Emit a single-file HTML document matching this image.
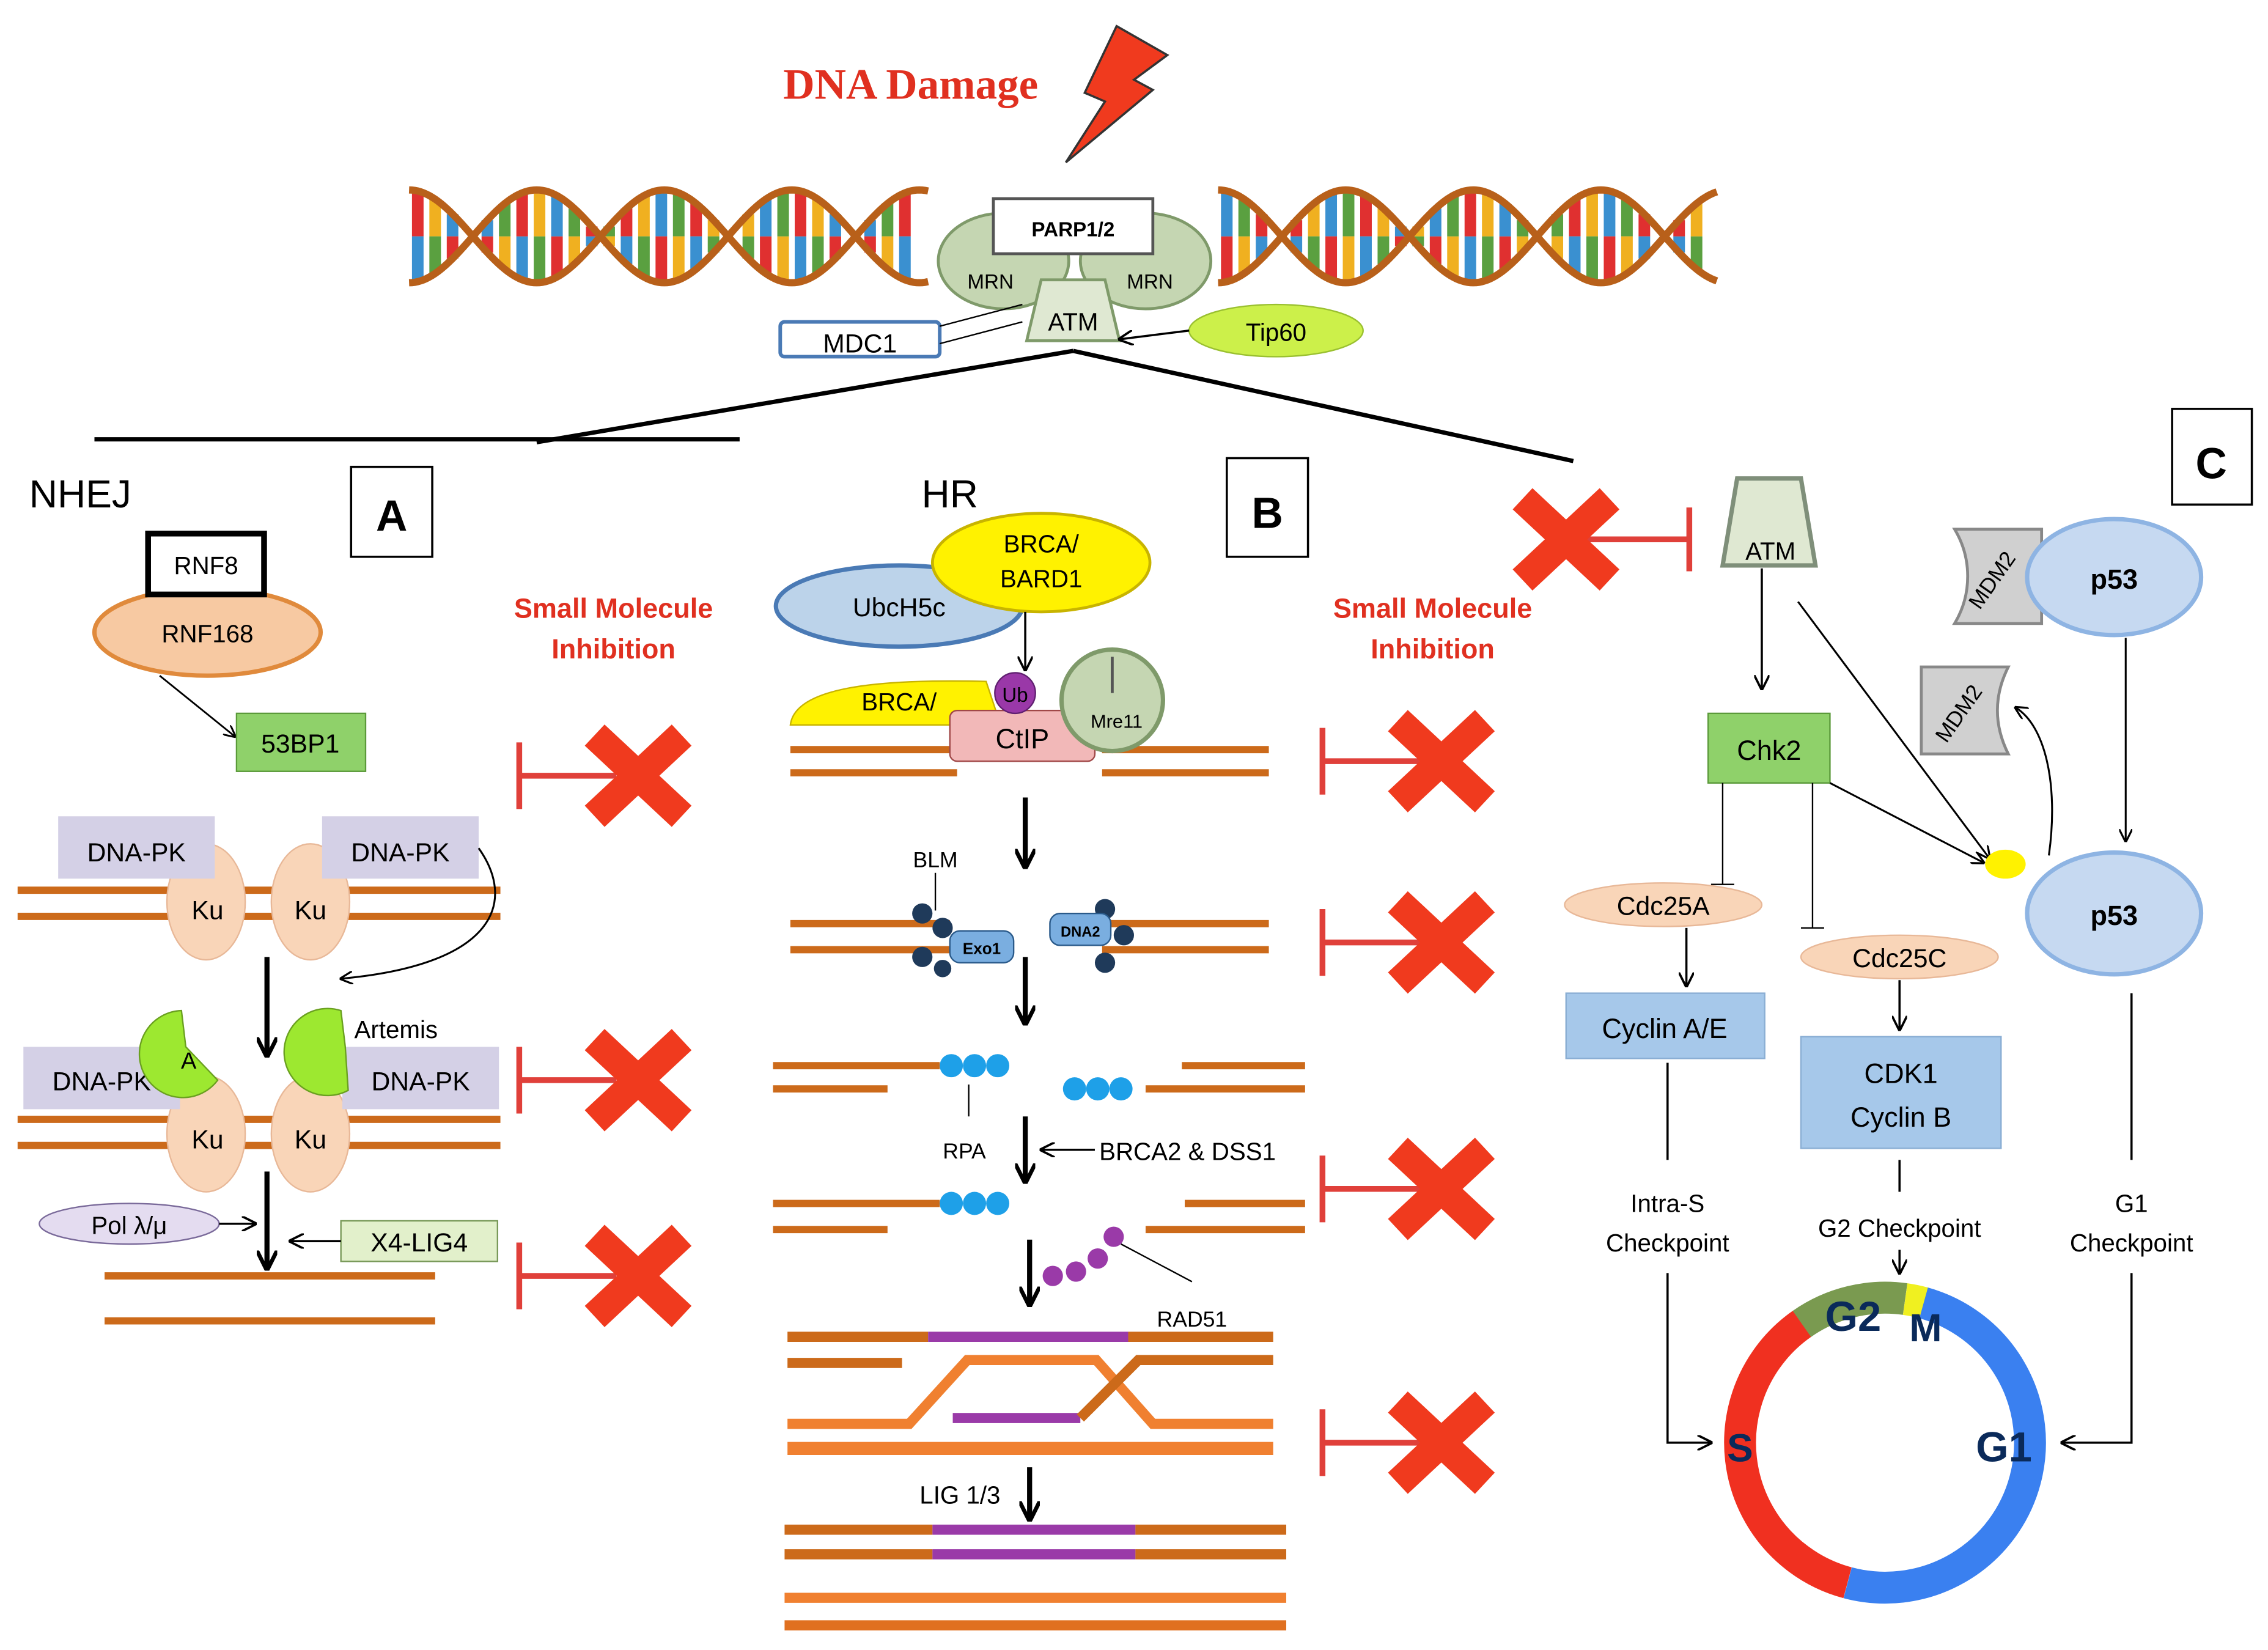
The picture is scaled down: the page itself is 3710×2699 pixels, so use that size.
<!DOCTYPE html>
<html><head><meta charset="utf-8"><style>
html,body{margin:0;padding:0;background:#fff}
svg{display:block}
text{font-family:"Liberation Sans",sans-serif}
</style></head><body>
<svg width="3710" height="2699" viewBox="0 0 1564 1138" xmlns="http://www.w3.org/2000/svg">
<defs>
<marker id="ah" viewBox="0 0 10 10" refX="9" refY="5" markerWidth="7" markerHeight="7" orient="auto"><path d="M0,0 L10,5 L0,10" fill="none" stroke="#000" stroke-width="1.5"/></marker>
<marker id="ahb" viewBox="0 0 10 10" refX="9" refY="5" markerWidth="4" markerHeight="4" orient="auto"><path d="M0,0 L10,5 L0,10" fill="none" stroke="#000" stroke-width="2"/></marker>
<g id="X"><path d="M-30,-28 L30,28 M30,-28 L-30,28" stroke="#f03a1e" stroke-width="20"/></g>
</defs>
<rect width="1564" height="1138" fill="#fff"/>

<text x="628" y="68" font-size="30" font-weight="bold" fill="#e03020" text-anchor="middle" style="font-family:'Liberation Serif',serif">DNA Damage</text>
<polygon points="770,18 805,38 782,55 795,62 735,112 762,70 748,64" fill="#f03a1e" stroke="#333" stroke-width="1.5"/>

<g id="helix"></g>

<ellipse cx="692" cy="180" rx="45" ry="33" fill="#c5d6b2" stroke="#7f9a6a" stroke-width="2"/>
<ellipse cx="790" cy="180" rx="45" ry="33" fill="#c5d6b2" stroke="#7f9a6a" stroke-width="2"/>
<rect x="685" y="137" width="110" height="38" fill="#fff" stroke="#555" stroke-width="2"/>
<text x="740" y="163" font-size="14" font-weight="bold" text-anchor="middle">PARP1/2</text>
<text x="683" y="199" font-size="14" text-anchor="middle">MRN</text>
<text x="793" y="199" font-size="14" text-anchor="middle">MRN</text>
<polygon points="718,193 762,193 772,235 708,235" fill="#dfe8d2" stroke="#7f9a6a" stroke-width="2"/>
<text x="740" y="228" font-size="17" text-anchor="middle">ATM</text>
<rect x="538" y="222" width="110" height="24" rx="3" fill="#fff" stroke="#4a7ab5" stroke-width="2.5"/>
<text x="593" y="243" font-size="18" text-anchor="middle">MDC1</text>
<line x1="648" y1="225" x2="705" y2="210" stroke="#000"/>
<line x1="648" y1="237" x2="705" y2="222" stroke="#000"/>
<ellipse cx="880" cy="228" rx="60" ry="18" fill="#ccf04a" stroke="#9ac030"/>
<text x="880" y="235" font-size="17" text-anchor="middle">Tip60</text>
<line x1="820" y1="228" x2="772" y2="234" stroke="#000" stroke-width="1.5" marker-end="url(#ah)"/>

<line x1="740" y1="242" x2="370" y2="305" stroke="#000" stroke-width="3"/>
<line x1="740" y1="242" x2="1085" y2="318" stroke="#000" stroke-width="3"/>
<line x1="65" y1="303" x2="510" y2="303" stroke="#000" stroke-width="3"/>

<!-- Panel A -->
<text x="20" y="350" font-size="27">NHEJ</text>
<rect x="242" y="322" width="56" height="62" fill="#fff" stroke="#000" stroke-width="1.5"/>
<text x="270" y="366" font-size="30" font-weight="bold" text-anchor="middle">A</text>
<ellipse cx="143" cy="436" rx="78" ry="30" fill="#f7c9a2" stroke="#e08a3c" stroke-width="3"/>
<text x="143" y="443" font-size="17" text-anchor="middle">RNF168</text>
<rect x="102" y="368" width="80" height="42" fill="#fff" stroke="#000" stroke-width="4"/>
<text x="142" y="396" font-size="17" text-anchor="middle">RNF8</text>
<line x1="110" y1="466" x2="162" y2="508" stroke="#000" stroke-width="1.2" marker-end="url(#ah)"/>
<rect x="163" y="492" width="89" height="40" fill="#8fd16a" stroke="#5b9a3a"/>
<text x="207" y="519" font-size="18" text-anchor="middle">53BP1</text>

<g stroke="#cc6a1a" stroke-width="5">
<line x1="12" y1="614" x2="195" y2="614"/><line x1="12" y1="632" x2="195" y2="632"/>
<line x1="235" y1="614" x2="345" y2="614"/><line x1="235" y1="632" x2="345" y2="632"/>
<line x1="12" y1="772" x2="195" y2="772"/><line x1="12" y1="790" x2="195" y2="790"/>
<line x1="235" y1="772" x2="345" y2="772"/><line x1="235" y1="790" x2="345" y2="790"/>
<line x1="72" y1="880" x2="300" y2="880"/><line x1="72" y1="911" x2="300" y2="911"/>
</g>
<g fill="#f9d5b8" stroke="#e8b898">
<ellipse cx="142" cy="622" rx="27" ry="40"/><ellipse cx="214" cy="622" rx="27" ry="40"/>
<ellipse cx="142" cy="782" rx="27" ry="40"/><ellipse cx="214" cy="782" rx="27" ry="40"/>
</g>
<g fill="#d4d0e6">
<rect x="40" y="563" width="108" height="43"/><rect x="222" y="563" width="108" height="43"/>
<rect x="16" y="722" width="108" height="43"/><rect x="236" y="722" width="108" height="43"/>
</g>
<text x="94" y="594" font-size="18" text-anchor="middle">DNA-PK</text>
<text x="276" y="594" font-size="18" text-anchor="middle">DNA-PK</text>
<text x="70" y="752" font-size="18" text-anchor="middle">DNA-PK</text>
<text x="290" y="752" font-size="18" text-anchor="middle">DNA-PK</text>
<text x="143" y="634" font-size="18" text-anchor="middle">Ku</text>
<text x="214" y="634" font-size="18" text-anchor="middle">Ku</text>
<text x="143" y="792" font-size="18" text-anchor="middle">Ku</text>
<text x="214" y="792" font-size="18" text-anchor="middle">Ku</text>
<path d="M125,697 A30,30 0 1 0 150,745 L128,722 Z" fill="#9de830" stroke="#6aa020"/>
<text x="130" y="737" font-size="16" text-anchor="middle">A</text>
<path d="M235,697 A30,30 0 1 0 240,752 L238,722 Z" fill="#9de830" stroke="#6aa020"/>
<text x="273" y="716" font-size="17" text-anchor="middle">Artemis</text>
<line x1="184" y1="660" x2="184" y2="728" stroke="#000" stroke-width="3.5" marker-end="url(#ahb)"/>
<path d="M330,585 C355,620 345,665 235,675" fill="none" stroke="#000" stroke-width="1.3" marker-end="url(#ah)"/>
<line x1="184" y1="808" x2="184" y2="875" stroke="#000" stroke-width="3.5" marker-end="url(#ahb)"/>
<ellipse cx="89" cy="844" rx="62" ry="14" fill="#e4dcf0" stroke="#7a6a9a"/>
<text x="89" y="851" font-size="17" text-anchor="middle">Pol λ/μ</text>
<line x1="151" y1="844" x2="176" y2="844" stroke="#000" stroke-width="1.5" marker-end="url(#ah)"/>
<rect x="235" y="842" width="108" height="28" fill="#e2f0cb" stroke="#7a9a5a"/>
<text x="289" y="863" font-size="18" text-anchor="middle">X4-LIG4</text>
<line x1="235" y1="856" x2="200" y2="856" stroke="#000" stroke-width="1.5" marker-end="url(#ah)"/>

<text x="423" y="426" font-size="19" font-weight="bold" fill="#e03020" text-anchor="middle">Small Molecule</text>
<text x="423" y="454" font-size="19" font-weight="bold" fill="#e03020" text-anchor="middle">Inhibition</text>
<g stroke="#e0403a" stroke-width="4">
<line x1="358" y1="512" x2="358" y2="558"/><line x1="358" y1="535" x2="425" y2="535"/>
<line x1="358" y1="722" x2="358" y2="768"/><line x1="358" y1="745" x2="425" y2="745"/>
<line x1="358" y1="857" x2="358" y2="903"/><line x1="358" y1="880" x2="425" y2="880"/>
<line x1="912" y1="502" x2="912" y2="548"/><line x1="912" y1="525" x2="980" y2="525"/>
<line x1="912" y1="627" x2="912" y2="673"/><line x1="912" y1="650" x2="980" y2="650"/>
<line x1="912" y1="797" x2="912" y2="843"/><line x1="912" y1="820" x2="980" y2="820"/>
<line x1="912" y1="972" x2="912" y2="1018"/><line x1="912" y1="995" x2="980" y2="995"/>
<line x1="1090" y1="372" x2="1165" y2="372"/><line x1="1165" y1="350" x2="1165" y2="394"/>
</g>
<use href="#X" x="440" y="535"/><use href="#X" x="440" y="745"/><use href="#X" x="440" y="880"/>
<use href="#X" x="994" y="525"/><use href="#X" x="994" y="650"/><use href="#X" x="994" y="820"/><use href="#X" x="994" y="995"/>
<use href="#X" x="1080" y="372"/>

<!-- Panel B -->
<text x="655" y="350" font-size="27" text-anchor="middle">HR</text>
<rect x="846" y="316" width="56" height="68" fill="#fff" stroke="#000" stroke-width="1.5"/>
<text x="874" y="364" font-size="30" font-weight="bold" text-anchor="middle">B</text>
<ellipse cx="620" cy="418" rx="85" ry="28" fill="#bcd3ea" stroke="#4a7ab5" stroke-width="3"/>
<text x="620" y="425" font-size="18" text-anchor="middle">UbcH5c</text>
<ellipse cx="718" cy="388" rx="75" ry="34" fill="#fff200" stroke="#c8b400" stroke-width="2"/>
<text x="718" y="381" font-size="17" text-anchor="middle">BRCA/</text>
<text x="718" y="405" font-size="17" text-anchor="middle">BARD1</text>
<line x1="707" y1="422" x2="707" y2="462" stroke="#000" stroke-width="1.5" marker-end="url(#ah)"/>
<path d="M545,500 C548,475 600,468 680,470 L690,500 Z" fill="#fff200" stroke="#c8b400"/>
<text x="620" y="490" font-size="17" text-anchor="middle">BRCA/</text>
<g stroke="#cc6a1a" stroke-width="5">
<line x1="545" y1="517" x2="660" y2="517"/><line x1="545" y1="533" x2="660" y2="533"/>
<line x1="760" y1="517" x2="875" y2="517"/><line x1="760" y1="533" x2="875" y2="533"/>
</g>
<rect x="655" y="490" width="100" height="35" rx="5" fill="#f2b8b8" stroke="#a04848"/>
<text x="705" y="516" font-size="19" text-anchor="middle">CtIP</text>
<circle cx="700" cy="478" r="14" fill="#9a38a8" stroke="#602070"/>
<text x="700" y="484" font-size="14" text-anchor="middle">Ub</text>
<circle cx="767" cy="483" r="35" fill="#c5d6b2" stroke="#7f9a6a" stroke-width="3"/>
<line x1="767" y1="453" x2="767" y2="478" stroke="#555" stroke-width="2"/>
<text x="770" y="502" font-size="13" text-anchor="middle">Mre11</text>
<line x1="707" y1="550" x2="707" y2="598" stroke="#000" stroke-width="3.5" marker-end="url(#ahb)"/>
<text x="645" y="598" font-size="15" text-anchor="middle">BLM</text>
<line x1="645" y1="602" x2="645" y2="628" stroke="#000"/>
<g stroke="#cc6a1a" stroke-width="5">
<line x1="545" y1="637" x2="655" y2="637"/><line x1="545" y1="655" x2="655" y2="655"/>
<line x1="760" y1="637" x2="875" y2="637"/><line x1="760" y1="655" x2="875" y2="655"/>
</g>
<g fill="#1f3a5a"><circle cx="636" cy="630" r="7"/><circle cx="650" cy="640" r="7"/><circle cx="636" cy="660" r="7"/><circle cx="650" cy="668" r="6"/>
<circle cx="762" cy="627" r="7"/><circle cx="775" cy="645" r="7"/><circle cx="762" cy="664" r="7"/></g>
<rect x="655" y="642" width="44" height="22" rx="7" fill="#7aaee0" stroke="#2a5a8a"/>
<text x="677" y="658" font-size="11" font-weight="bold" text-anchor="middle">Exo1</text>
<rect x="724" y="630" width="42" height="22" rx="7" fill="#7aaee0" stroke="#2a5a8a"/>
<text x="745" y="646" font-size="10" font-weight="bold" text-anchor="middle">DNA2</text>
<line x1="707" y1="660" x2="707" y2="706" stroke="#000" stroke-width="3.5" marker-end="url(#ahb)"/>
<g stroke="#cc6a1a" stroke-width="5">
<line x1="533" y1="735" x2="648" y2="735"/><line x1="533" y1="751" x2="612" y2="751"/>
<line x1="815" y1="735" x2="900" y2="735"/><line x1="790" y1="751" x2="900" y2="751"/>
<line x1="533" y1="830" x2="648" y2="830"/><line x1="533" y1="848" x2="612" y2="848"/>
<line x1="817" y1="830" x2="900" y2="830"/><line x1="790" y1="848" x2="900" y2="848"/>
</g>
<g fill="#1ea0e8"><circle cx="656" cy="735" r="8"/><circle cx="672" cy="735" r="8"/><circle cx="688" cy="735" r="8"/>
<circle cx="741" cy="751" r="8"/><circle cx="757" cy="751" r="8"/><circle cx="773" cy="751" r="8"/>
<circle cx="656" cy="830" r="8"/><circle cx="672" cy="830" r="8"/><circle cx="688" cy="830" r="8"/></g>
<line x1="668" y1="748" x2="668" y2="770" stroke="#000"/>
<text x="665" y="799" font-size="15" text-anchor="middle">RPA</text>
<line x1="707" y1="770" x2="707" y2="815" stroke="#000" stroke-width="3.5" marker-end="url(#ahb)"/>
<line x1="755" y1="793" x2="718" y2="793" stroke="#000" stroke-width="1.5" marker-end="url(#ah)"/>
<text x="758" y="800" font-size="17">BRCA2 &amp; DSS1</text>
<g fill="#9a3aa8"><circle cx="726" cy="880" r="7"/><circle cx="742" cy="877" r="7"/><circle cx="757" cy="868" r="7"/><circle cx="768" cy="853" r="7"/></g>
<line x1="773" y1="858" x2="822" y2="884" stroke="#000"/>
<line x1="710" y1="855" x2="710" y2="900" stroke="#000" stroke-width="3.5" marker-end="url(#ahb)"/>
<text x="822" y="915" font-size="15" text-anchor="middle">RAD51</text>
<g stroke-width="7" fill="none">
<line x1="543" y1="922" x2="640" y2="922" stroke="#cc6a1a"/><line x1="640" y1="922" x2="778" y2="922" stroke="#9a3aa8"/><line x1="778" y1="922" x2="878" y2="922" stroke="#cc6a1a"/>
<line x1="543" y1="940" x2="622" y2="940" stroke="#cc6a1a"/>
<path d="M543,982 L627,982 L667,938 L756,938 L795,982 L878,982" stroke="#f08030"/>
<line x1="657" y1="978" x2="745" y2="978" stroke="#9a3aa8"/>
<path d="M745,978 L785,938 L878,938" stroke="#cc6a1a"/>
<line x1="543" y1="999" x2="878" y2="999" stroke="#f08030" stroke-width="9"/>
</g>
<text x="662" y="1037" font-size="17" text-anchor="middle">LIG 1/3</text>
<line x1="710" y1="1012" x2="710" y2="1048" stroke="#000" stroke-width="3.5" marker-end="url(#ahb)"/>
<g stroke-width="7">
<line x1="541" y1="1055" x2="643" y2="1055" stroke="#cc6a1a"/><line x1="643" y1="1055" x2="783" y2="1055" stroke="#9a3aa8"/><line x1="783" y1="1055" x2="887" y2="1055" stroke="#cc6a1a"/>
<line x1="541" y1="1072" x2="643" y2="1072" stroke="#cc6a1a"/><line x1="643" y1="1072" x2="783" y2="1072" stroke="#9a3aa8"/><line x1="783" y1="1072" x2="887" y2="1072" stroke="#cc6a1a"/>
<line x1="541" y1="1102" x2="887" y2="1102" stroke="#f08030"/><line x1="541" y1="1121" x2="887" y2="1121" stroke="#e07020"/>
</g>
<text x="988" y="426" font-size="19" font-weight="bold" fill="#e03020" text-anchor="middle">Small Molecule</text>
<text x="988" y="454" font-size="19" font-weight="bold" fill="#e03020" text-anchor="middle">Inhibition</text>

<!-- Panel C -->
<rect x="1498" y="282" width="55" height="66" fill="#fff" stroke="#000" stroke-width="1.5"/>
<text x="1525" y="330" font-size="30" font-weight="bold" text-anchor="middle">C</text>
<polygon points="1198,330 1242,330 1252,390 1188,390" fill="#dfe8d2" stroke="#7f8f7a" stroke-width="3"/>
<text x="1221" y="386" font-size="17" text-anchor="middle">ATM</text>
<line x1="1215" y1="392" x2="1215" y2="475" stroke="#000" stroke-width="1.5" marker-end="url(#ah)"/>
<line x1="1240" y1="415" x2="1372" y2="592" stroke="#000" stroke-width="1.3" marker-end="url(#ah)"/>
<rect x="1178" y="492" width="84" height="48" fill="#8fd16a" stroke="#5b9a3a"/>
<text x="1220" y="524" font-size="19" text-anchor="middle">Chk2</text>
<line x1="1262" y1="540" x2="1368" y2="595" stroke="#000" stroke-width="1.3" marker-end="url(#ah)"/>
<line x1="1188" y1="540" x2="1188" y2="610" stroke="#000"/><line x1="1180" y1="610" x2="1196" y2="610" stroke="#000"/>
<line x1="1250" y1="540" x2="1250" y2="640" stroke="#000"/><line x1="1242" y1="640" x2="1258" y2="640" stroke="#000"/>
<ellipse cx="1383" cy="596" rx="14" ry="10" fill="#fff200"/>
<path d="M1348,365 L1408,365 L1408,430 L1348,430 C1360,410 1360,385 1348,365 Z" fill="#d0d0d0" stroke="#888" stroke-width="2"/>
<text x="1378" y="403" font-size="15" text-anchor="middle" transform="rotate(-55 1378 403)">MDM2</text>
<path d="M1325,460 L1385,460 C1375,480 1375,500 1385,520 L1325,520 Z" fill="#d0d0d0" stroke="#888" stroke-width="2"/>
<text x="1355" y="495" font-size="15" text-anchor="middle" transform="rotate(-55 1355 495)">MDM2</text>
<ellipse cx="1458" cy="398" rx="60" ry="40" fill="#c6d9f1" stroke="#8eb4e3" stroke-width="3"/>
<text x="1458" y="406" font-size="19" font-weight="bold" text-anchor="middle">p53</text>
<ellipse cx="1458" cy="630" rx="60" ry="42" fill="#c6d9f1" stroke="#8eb4e3" stroke-width="3"/>
<text x="1458" y="638" font-size="19" font-weight="bold" text-anchor="middle">p53</text>
<line x1="1466" y1="440" x2="1466" y2="580" stroke="#000" stroke-width="1.3" marker-end="url(#ah)"/>
<path d="M1413,590 C1420,540 1410,500 1390,488" fill="none" stroke="#000" stroke-width="1.3" marker-end="url(#ah)"/>
<ellipse cx="1147" cy="624" rx="68" ry="15" fill="#f9d5b8" stroke="#e8b898"/>
<text x="1147" y="631" font-size="18" text-anchor="middle">Cdc25A</text>
<ellipse cx="1310" cy="660" rx="68" ry="15" fill="#f9d5b8" stroke="#e8b898"/>
<text x="1310" y="667" font-size="18" text-anchor="middle">Cdc25C</text>
<line x1="1163" y1="640" x2="1163" y2="680" stroke="#000" stroke-width="1.5" marker-end="url(#ah)"/>
<line x1="1310" y1="676" x2="1310" y2="710" stroke="#000" stroke-width="1.5" marker-end="url(#ah)"/>
<rect x="1080" y="685" width="137" height="45" fill="#a6c8ea" stroke="#8aaed4"/>
<text x="1148" y="716" font-size="19" text-anchor="middle">Cyclin A/E</text>
<rect x="1242" y="715" width="138" height="77" fill="#a6c8ea" stroke="#8aaed4"/>
<text x="1311" y="747" font-size="19" text-anchor="middle">CDK1</text>
<text x="1311" y="777" font-size="19" text-anchor="middle">Cyclin B</text>
<line x1="1150" y1="733" x2="1150" y2="800" stroke="#000" stroke-width="1.5"/>
<line x1="1310" y1="800" x2="1310" y2="822" stroke="#000" stroke-width="1.5"/>
<line x1="1470" y1="685" x2="1470" y2="800" stroke="#000" stroke-width="1.5"/>
<text x="1150" y="836" font-size="17" text-anchor="middle">Intra-S</text>
<text x="1150" y="863" font-size="17" text-anchor="middle">Checkpoint</text>
<text x="1310" y="853" font-size="17" text-anchor="middle">G2 Checkpoint</text>
<text x="1470" y="836" font-size="17" text-anchor="middle">G1</text>
<text x="1470" y="863" font-size="17" text-anchor="middle">Checkpoint</text>
<path d="M1150,878 L1150,995 L1180,995" fill="none" stroke="#000" stroke-width="1.5" marker-end="url(#ah)"/>
<line x1="1310" y1="862" x2="1310" y2="878" stroke="#000" stroke-width="1.5" marker-end="url(#ah)"/>
<path d="M1470,878 L1470,995 L1422,995" fill="none" stroke="#000" stroke-width="1.5" marker-end="url(#ah)"/>
<g fill="none" stroke-width="22">
<circle cx="1300" cy="995" r="100" stroke="#3a80f0" stroke-dasharray="314 315" transform="rotate(-75 1300 995)"/>
<circle cx="1300" cy="995" r="100" stroke="#f03020" stroke-dasharray="227 402" transform="rotate(105 1300 995)"/>
<circle cx="1300" cy="995" r="100" stroke="#7a9a50" stroke-dasharray="75 554" transform="rotate(235 1300 995)"/>
<circle cx="1300" cy="995" r="100" stroke="#f0f020" stroke-dasharray="13 616" transform="rotate(278 1300 995)"/>
</g>
<text x="1278" y="918" font-size="29" font-weight="bold" fill="#0a2a5a" text-anchor="middle">G2</text>
<text x="1328" y="925" font-size="27" font-weight="bold" fill="#0a2a5a" text-anchor="middle">M</text>
<text x="1200" y="1008" font-size="27" font-weight="bold" fill="#0a2a5a" text-anchor="middle">S</text>
<text x="1382" y="1008" font-size="29" font-weight="bold" fill="#0a2a5a" text-anchor="middle">G1</text>
</svg>
<script>
(function(){
var g=document.getElementById('helix'),ns='http://www.w3.org/2000/svg';
var cols=['#e03030','#f0b020','#3a90d0','#5aa040'];
function helix(x0,x1,ph){
 var amp=32,cy=163,per=176,a='',b='';
 for(var x=x0;x<=x1;x+=2){var t=(x-x0)/per*2*Math.PI+ph;
  a+=(x==x0?'M':'L')+x+','+(cy-amp*Math.cos(t));b+=(x==x0?'M':'L')+x+','+(cy+amp*Math.cos(t));}
 var i=0;
 for(var x=x0+6;x<x1-4;x+=12){var t=(x-x0)/per*2*Math.PI+ph;var y1=cy-amp*Math.cos(t),y2=cy+amp*Math.cos(t);
  if(Math.abs(y1-y2)<10){i++;continue;}
  var m=(y1+y2)/2;
  var r1=document.createElementNS(ns,'line');r1.setAttribute('x1',x);r1.setAttribute('x2',x);r1.setAttribute('y1',y1);r1.setAttribute('y2',m);r1.setAttribute('stroke',cols[i%4]);r1.setAttribute('stroke-width',8);g.appendChild(r1);
  var r2=document.createElementNS(ns,'line');r2.setAttribute('x1',x);r2.setAttribute('x2',x);r2.setAttribute('y1',m);r2.setAttribute('y2',y2);r2.setAttribute('stroke',cols[(i+2)%4]);r2.setAttribute('stroke-width',8);g.appendChild(r2);i++;}
 [a,b].forEach(function(d){var p=document.createElementNS(ns,'path');p.setAttribute('d',d);p.setAttribute('fill','none');p.setAttribute('stroke','#b8601a');p.setAttribute('stroke-width',5);g.appendChild(p);});
}
helix(282,640,0);helix(840,1185,Math.PI);
})();
</script>
</body></html>
